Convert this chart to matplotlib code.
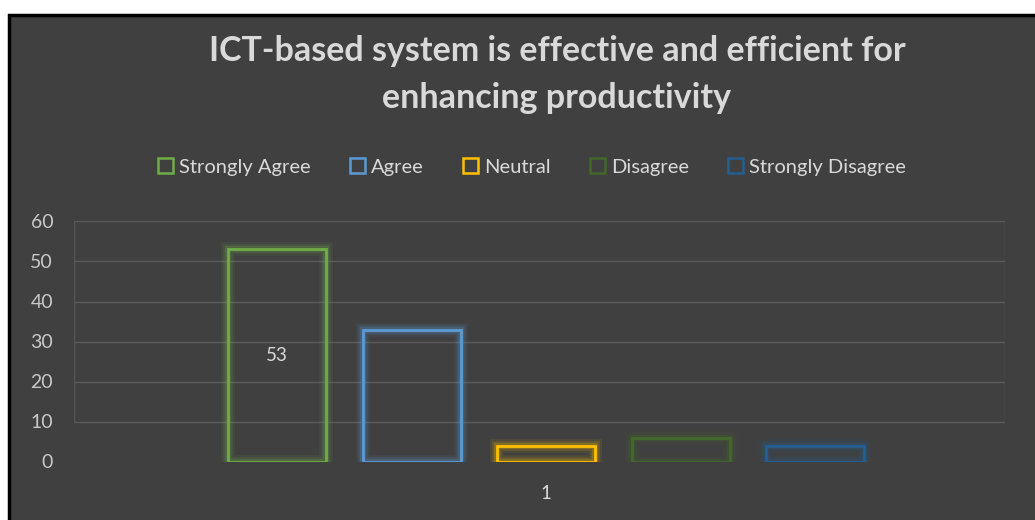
import matplotlib.pyplot as plt
from matplotlib.patches import Patch, Rectangle

# survey responses for the single question
categories = ['Strongly Agree', 'Agree', 'Neutral', 'Disagree', 'Strongly Disagree']
counts = [53, 33, 4, 6, 4]
colors = ['#70ad47', '#5b9bd5', '#ffc000', '#43682b', '#255e91']
group_label = '1'
yticks = [0, 10, 20, 30, 40, 50, 60]

bg = '#404040'
txt = '#d9d9d9'

plt.rcParams['font.family'] = ['Lato', 'DejaVu Sans']

fig = plt.figure(figsize=(10.35, 5.2), dpi=100)
fig.patch.set_facecolor('white')

# dark chart panel with black frame
panel = Rectangle((9 / 1035, -0.1), 1.2, 505 / 520 + 0.1, transform=fig.transFigure,
                  facecolor=bg, edgecolor='black', linewidth=2.5, zorder=-1)
fig.patches.append(panel)

ax = fig.add_axes([74 / 1035, (520 - 461.5) / 520, 931 / 1035, 240 / 520])
ax.set_facecolor('none')
ax.set_zorder(2)

step = 1.0
width = 0.73
xs = [(i - 2) * step for i in range(len(counts))]

# gridlines only span the 10-60 band
for v in yticks[1:]:
    ax.axhline(v, color='#5a5a5a', lw=1, zorder=1)
ax.vlines([-3.51, 3.41], 10, 60, color='#555555', lw=1, zorder=1)

for x, h, c in zip(xs, counts, colors):
    # soft glow around each outline
    for lw, a in [(10, 0.08), (7, 0.12), (4.5, 0.22)]:
        ax.bar(x, h, width=width, facecolor='none', edgecolor=c, linewidth=lw,
               alpha=a, zorder=2)
    ax.bar(x, h, width=width, facecolor='none', edgecolor=c, linewidth=2, zorder=3)

ax.text(xs[0], counts[0] / 2, str(counts[0]), ha='center', va='center',
        color=txt, fontsize=13.5, zorder=4)

ax.set_xlim(-3.51, 3.41)
ax.set_ylim(0, 60)
ax.set_yticks(yticks)
ax.set_xticks([0])
ax.set_xticklabels([group_label])
ax.tick_params(axis='y', length=0, pad=15, labelsize=14, labelcolor='#c8c8c8')
ax.tick_params(axis='x', length=0, pad=17, labelsize=13.5, labelcolor=txt)
for s in ax.spines.values():
    s.set_visible(False)

fig.text(557 / 1035, 1 - 51 / 520, 'ICT-based system is effective and efficient for',
         ha='center', va='center', fontsize=24.5, fontweight='bold', color=txt)
fig.text(557 / 1035, 1 - 98 / 520, 'enhancing productivity',
         ha='center', va='center', fontsize=24.5, fontweight='bold', color=txt)

handles = [Patch(facecolor='none', edgecolor=c, linewidth=1.8, label=l)
           for l, c in zip(categories, colors)]
fig.legend(handles=handles, loc='center', bbox_to_anchor=(532 / 1035, 1 - 167 / 520),
           ncol=5, frameon=False, fontsize=14.5, labelcolor=txt,
           handlelength=0.75, handleheight=0.75, handletextpad=0.3, columnspacing=1.95)

fig.savefig('out.png', dpi=100, facecolor=fig.get_facecolor())
